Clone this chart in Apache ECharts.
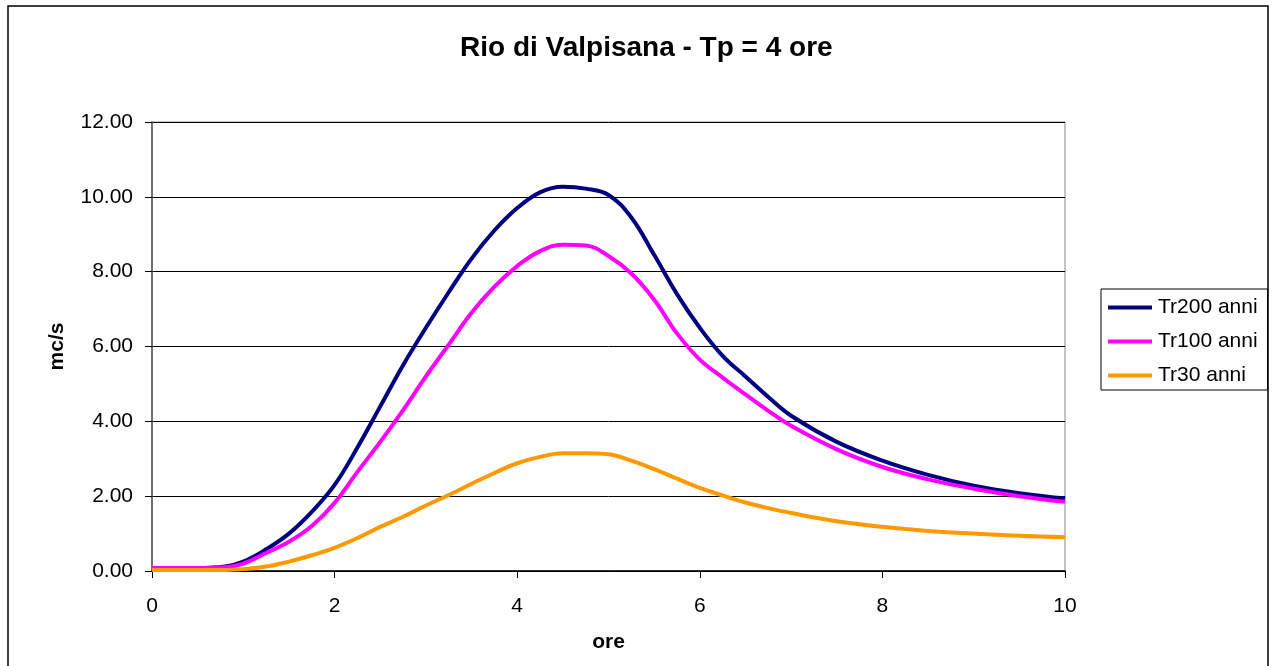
<!DOCTYPE html>
<html>
<head>
<meta charset="utf-8">
<script src="https://cdn.jsdelivr.net/npm/echarts@6/dist/echarts.min.js"></script>
<style>
  html, body { margin: 0; padding: 0; background: #fff; }
  #grafico { width: 1273px; height: 666px; }
</style>
</head>
<body>
<div id="grafico"></div>
<script>
// ore
const ore = [0, 0.5, 0.8, 1.0, 1.25, 1.5, 1.75, 2.0, 2.25, 2.5, 2.75, 3.0, 3.25, 3.5, 3.75, 4.0, 4.25, 4.5, 4.75,
  5.0, 5.25, 5.5, 5.75, 6.0, 6.25, 6.5, 6.75, 7.0, 7.5, 8.0, 8.5, 9.0, 9.5, 10];

// mc/s
const tr200 = [0.08, 0.08, 0.12, 0.25, 0.58, 1.0, 1.58, 2.3, 3.3, 4.4, 5.5, 6.5, 7.45, 8.35, 9.1, 9.7, 10.12, 10.27, 10.22,
  10.05, 9.45, 8.45, 7.4, 6.5, 5.75, 5.2, 4.65, 4.15, 3.45, 2.95, 2.57, 2.28, 2.08, 1.94];
const tr100 = [0.08, 0.08, 0.1, 0.2, 0.48, 0.78, 1.2, 1.82, 2.65, 3.45, 4.3, 5.2, 6.05, 6.9, 7.6, 8.15, 8.55, 8.72, 8.7,
  8.42, 7.95, 7.25, 6.35, 5.65, 5.17, 4.72, 4.28, 3.88, 3.25, 2.78, 2.45, 2.2, 2.0, 1.85];
const tr30 = [0.03, 0.03, 0.03, 0.05, 0.12, 0.25, 0.42, 0.62, 0.88, 1.18, 1.45, 1.75, 2.03, 2.33, 2.62, 2.88, 3.05, 3.15, 3.15,
  3.12, 2.95, 2.72, 2.47, 2.22, 2.02, 1.83, 1.68, 1.55, 1.33, 1.18, 1.07, 1.0, 0.94, 0.9];

const nomi = ["Tr200 anni", "Tr100 anni", "Tr30 anni"];
const colori = ["#000080", "#FF00FF", "#FF9900"];

const chartDom = document.getElementById("grafico");
const myChart = echarts.init(chartDom, null, { renderer: "canvas" });

const font = "Liberation Sans, Arial, sans-serif";
const serie = [tr200, tr100, tr30].map((valori, i) => ({
  name: nomi[i],
  type: "line",
  data: ore.map((x, k) => [x, valori[k]]),
  showSymbol: false,
  smooth: 0.4,
  lineStyle: { width: 4, color: colori[i] },
  itemStyle: { color: colori[i] }
}));

const option = {
  animation: false,
  backgroundColor: "#fff",
  textStyle: { fontFamily: font },
  title: {
    text: "Rio di Valpisana - Tp = 4 ore",
    left: 455,
    top: 29,
    textStyle: { fontFamily: font, fontSize: 28, fontWeight: "bold", color: "#000" }
  },
  graphic: [{
    type: "rect",
    shape: { x: 8, y: 6, width: 1260, height: 670 },
    style: { fill: "none", stroke: "#000", lineWidth: 1.5 },
    silent: true
  }],
  legend: {
    orient: "vertical",
    left: 1101,
    top: 289,
    width: 166,
    padding: [8, 10, 4, 7],
    itemGap: 13,
    itemWidth: 44,
    itemHeight: 4,
    icon: "rect",
    borderColor: "#000",
    borderWidth: 1,
    textStyle: { fontFamily: font, fontSize: 21, color: "#000", padding: [0, 0, 0, 1] },
    data: nomi
  },
  grid: { left: 152, right: 208, top: 122, bottom: 95, containLabel: false,
    show: true, borderColor: "#888", borderWidth: 1 },
  xAxis: {
    type: "value",
    min: 0, max: 10, interval: 2,
    name: "ore",
    nameLocation: "middle",
    nameGap: 61,
    nameTextStyle: { fontFamily: font, fontSize: 21, fontWeight: "bold", color: "#000" },
    axisLine: { onZero: false, lineStyle: { color: "#000", width: 1.5 } },
    axisTick: { show: true, length: 7, lineStyle: { color: "#000" } },
    axisLabel: { fontFamily: font, fontSize: 21, color: "#000", margin: 25 },
    splitLine: { show: false }
  },
  yAxis: {
    type: "value",
    min: 0, max: 12, interval: 2,
    name: "mc/s",
    nameLocation: "middle",
    nameGap: 84,
    nameRotate: 90,
    nameTextStyle: { fontFamily: font, fontSize: 21, fontWeight: "bold", color: "#000" },
    axisLine: { show: true, lineStyle: { color: "#555", width: 1.5 } },
    axisTick: { show: true, length: 7, lineStyle: { color: "#000" } },
    axisLabel: { fontFamily: font, fontSize: 21, color: "#000", margin: 19, formatter: v => v.toFixed(2) },
    splitLine: { show: true, lineStyle: { color: "#000", width: 1 } }
  },
  series: serie
};

myChart.setOption(option);
</script>
</body>
</html>
